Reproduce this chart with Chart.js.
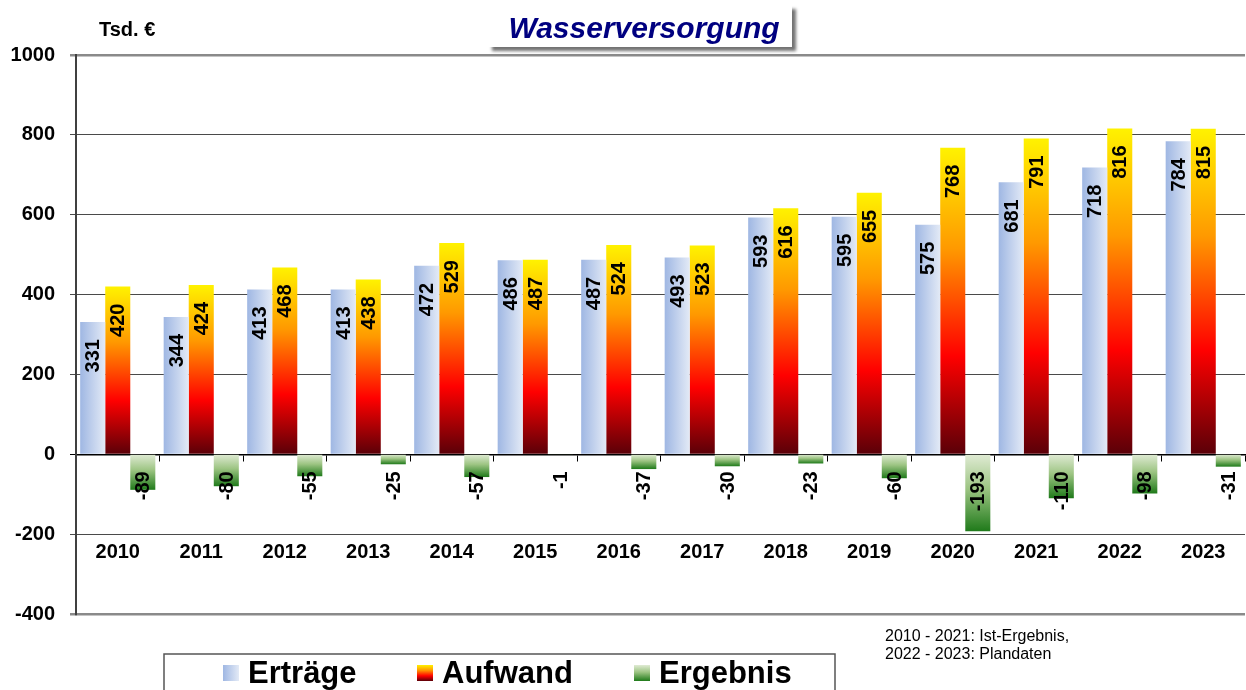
<!DOCTYPE html>
<html lang="de">
<head>
<meta charset="utf-8">
<title>Wasserversorgung</title>
<script src="https://cdn.jsdelivr.net/npm/chart.js@4"></script>
<style>
  html, body { margin: 0; padding: 0; background: #fff; }
  #wrap { width: 1246px; height: 690px; position: relative; }
</style>
</head>
<body>
<div id="wrap"><canvas id="chart"></canvas></div>
<script>
// Daten (Tsd. €)
const years = ['2010', '2011', '2012', '2013', '2014', '2015', '2016', '2017', '2018', '2019', '2020', '2021', '2022', '2023'];
const ertraege = [331, 344, 413, 413, 472, 486, 487, 493, 593, 595, 575, 681, 718, 784];
const aufwand = [420, 424, 468, 438, 529, 487, 524, 523, 616, 655, 768, 791, 816, 815];
const ergebnis = [-89, -80, -55, -25, -57, -1, -37, -30, -23, -60, -193, -110, -98, -31];
const yTicks = [-400, -200, 0, 200, 400, 600, 800, 1000];
const seriesNames = ['Erträge', 'Aufwand', 'Ergebnis'];
const noteLines = ['2010 - 2021: Ist-Ergebnis,', '2022 - 2023: Plandaten'];

const FONT = '"Liberation Sans", Arial, sans-serif';
const CAT_PCT = 0.9;

// Farbverläufe
function blueGrad(g, x0, x1) {
    const grad = g.createLinearGradient(x0, 0, x1, 0);
    grad.addColorStop(0, '#9fb7e3');
    grad.addColorStop(1, '#e3eaf6');
    return grad;
}
function fireGrad(g, y0, y1) {
    const grad = g.createLinearGradient(0, y0, 0, y1);
    grad.addColorStop(0, '#fff200');
    grad.addColorStop(0.33, '#ff9900');
    grad.addColorStop(0.68, '#ff0000');
    grad.addColorStop(1, '#5a0008');
    return grad;
}
function greenGrad(g, y0, y1) {
    const grad = g.createLinearGradient(0, y0, 0, y1);
    grad.addColorStop(0, '#e0ebd4');
    grad.addColorStop(0.45, '#9cc482');
    grad.addColorStop(1, '#1f7a1a');
    return grad;
}

function barFill(kind) {
    return function (ctx) {
        const chart = ctx.chart;
        if (!chart.chartArea || ctx.type !== 'data') {
            return kind === 0 ? '#c0d0ee' : kind === 1 ? '#ff8c00' : '#7fb060';
        }
        const ys = chart.scales.y;
        const top = ys.getPixelForValue(ctx.raw);
        const base = ys.getPixelForValue(0);
        if (kind === 0) {
            const xs = chart.scales.x;
            const bw = xs.width / years.length * CAT_PCT / 3;
            const cx = xs.getPixelForValue(ctx.dataIndex);
            return blueGrad(chart.ctx, cx - 1.5 * bw, cx - 0.5 * bw);
        }
        if (kind === 1) return fireGrad(chart.ctx, top, base);
        return greenGrad(chart.ctx, base, top);
    };
}

// Werte senkrecht in die Balken schreiben
const valueLabels = {
    id: 'valueLabels',
    afterDatasetsDraw(chart) {
        const g = chart.ctx;
        const zero = chart.scales.y.getPixelForValue(0);
        g.save();
        g.font = 'bold 20px ' + FONT;
        g.fillStyle = '#000';
        g.textAlign = 'right';
        g.textBaseline = 'middle';
        chart.data.datasets.forEach((ds, i) => {
            chart.getDatasetMeta(i).data.forEach((el, j) => {
                const v = ds.data[j];
                const y = v >= 0 ? el.y + 17 : zero + 17;
                g.save();
                g.translate(el.x + 1, y);
                g.rotate(-Math.PI / 2);
                g.fillText(String(v), 0, 0);
                g.restore();
            });
        });
        g.restore();
    }
};

// Titel, Einheit, Hinweis, Legende
const decorations = {
    id: 'decorations',
    afterDraw(chart) {
        const g = chart.ctx;
        g.save();
        // Titelbox mit Schatten
        g.shadowColor = 'rgba(0,0,0,0.55)';
        g.shadowOffsetX = 4;
        g.shadowOffsetY = 4;
        g.shadowBlur = 3;
        g.fillStyle = '#fff';
        g.fillRect(488, 5, 304, 42);
        g.restore();

        g.save();
        g.font = 'italic bold 30px ' + FONT;
        g.fillStyle = '#000080';
        g.textAlign = 'center';
        g.textBaseline = 'alphabetic';
        g.fillText('Wasserversorgung', 644, 38);

        g.font = 'bold 20px ' + FONT;
        g.fillStyle = '#000';
        g.textAlign = 'left';
        g.fillText('Tsd. €', 99, 36);

        g.font = '16px ' + FONT;
        g.fillText(noteLines[0], 885, 641);
        g.fillText(noteLines[1], 885, 659);

        // Legende
        g.strokeStyle = '#555';
        g.lineWidth = 1.5;
        g.strokeRect(164, 654, 671, 60);
        const items = [
            { x: 223, fill: (x, y, s) => blueGrad(g, x, x + s) },
            { x: 417, fill: (x, y, s) => fireGrad(g, y, y + s) },
            { x: 634, fill: (x, y, s) => greenGrad(g, y, y + s) }
        ];
        g.font = 'bold 31px ' + FONT;
        items.forEach((it, i) => {
            const s = 16;
            const y = 665;
            g.fillStyle = it.fill(it.x, y, s);
            g.fillRect(it.x, y, s, s);
            g.fillStyle = '#000';
            g.fillText(seriesNames[i], it.x + 25, 683);
        });
        g.restore();
    }
};

const gridColor = ctx => {
    const v = ctx.tick && ctx.tick.value;
    if (v === 1000 || v === -400) return '#8a8a8a';
    if (v === 0) return '#000';
    return '#4a4a4a';
};
const gridWidth = ctx => {
    const v = ctx.tick && ctx.tick.value;
    if (v === 1000 || v === -400) return 2.5;
    return 1;
};

new Chart(document.getElementById('chart'), {
    type: 'bar',
    data: {
        labels: years,
        datasets: [
            { label: seriesNames[0], data: ertraege, backgroundColor: barFill(0) },
            { label: seriesNames[1], data: aufwand, backgroundColor: barFill(1) },
            { label: seriesNames[2], data: ergebnis, backgroundColor: barFill(2) }
        ]
    },
    options: {
        responsive: true,
        maintainAspectRatio: false,
        animation: false,
        datasets: {
            bar: { categoryPercentage: CAT_PCT, barPercentage: 1.0, borderWidth: 0 }
        },
        layout: { padding: { top: 55, bottom: 76, left: 0, right: 1 } },
        plugins: {
            legend: { display: false },
            tooltip: { enabled: false },
            title: { display: false }
        },
        scales: {
            x: {
                position: { y: 0 },
                afterFit: scale => { scale.paddingLeft = 0; scale.paddingRight = 0; },
                grid: { drawOnChartArea: false, drawTicks: true, tickLength: 6, color: '#000', offset: true },
                border: { color: '#000', width: 1.5 },
                ticks: {
                    color: '#000',
                    font: { family: FONT, size: 20, weight: 'bold' },
                    padding: 80,
                    maxRotation: 0,
                    autoSkip: false
                }
            },
            y: {
                min: -400,
                max: 1000,
                afterBuildTicks: scale => { scale.ticks = yTicks.map(v => ({ value: v })); },
                afterFit: scale => { scale.width = 76; },
                grid: { color: gridColor, lineWidth: gridWidth, tickLength: 6, drawTicks: true },
                border: { color: '#404040', width: 2 },
                ticks: {
                    color: '#000',
                    padding: 15,
                    font: { family: FONT, size: 20, weight: 'bold' },
                    callback: v => String(v)
                }
            }
        }
    },
    plugins: [valueLabels, decorations]
});
</script>
</body>
</html>
